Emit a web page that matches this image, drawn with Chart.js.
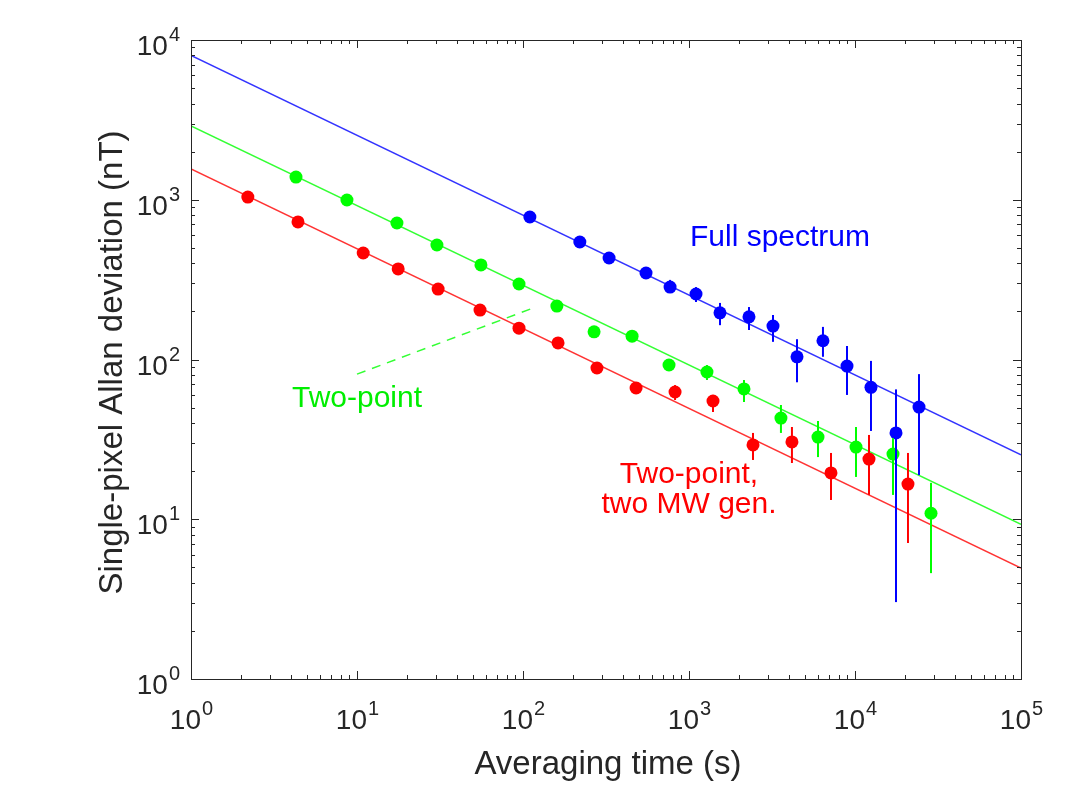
<!DOCTYPE html>
<html>
<head>
<meta charset="utf-8">
<title>Single-pixel Allan deviation</title>
<script src="https://cdn.jsdelivr.net/npm/chart.js@4.4.0/dist/chart.umd.min.js"></script>
<style>
    html, body { margin: 0; padding: 0; background: #ffffff; }
    #wrap { width: 1077px; height: 789px; }
</style>
</head>
<body>
<div id="wrap"><canvas id="allanChart" width="1077" height="789"></canvas></div>
<script>
// Full spectrum (blue)
const blueTime = [110, 220, 330, 551, 769, 1102, 1537, 2298, 3206, 4474, 6412, 8950, 12480, 17660, 24300];
const blueDev  = [780, 544, 432, 348, 284, 257, 196, 185, 162, 104, 131, 91, 67, 34.7, 50.4];
const blueLow  = [760, 530, 421, 339, 261, 229, 164, 153, 129, 72, 104, 60, 35.7, 3.03, 18.9];
const blueHigh = [800, 558, 443, 357, 315, 284, 226, 213, 190, 134, 160, 121.5, 98, 65, 81];

// Two-point (green)
const greenTime = [4.29, 8.7, 17.4, 30.3, 55.8, 94.6, 160, 268, 454, 758, 1283, 2144, 3580, 5985, 10140, 16940, 28700];
const greenDev  = [1387, 996, 715, 521, 391, 297, 216, 149, 140, 92.4, 83.5, 65.4, 43.0, 32.7, 28.3, 25.6, 10.9];
const greenLow  = [1350, 970, 697, 508, 381, 289, 210, 145, 136, 89, 74.4, 54.2, 34.7, 24.5, 18.4, 14.2, 4.6];
const greenHigh = [1425, 1022, 733, 534, 401, 305, 222, 153, 144, 96, 92.4, 74.4, 51.9, 41.2, 37.8, 32.2, 16.9];

// Two-point, two MW generators (red)
const redTime = [2.2, 4.41, 10.9, 17.7, 30.8, 55.1, 94.6, 162.6, 279, 480, 824, 1395, 2430, 4170, 7166, 12140, 20850];
const redDev  = [1040, 726, 464, 369, 276, 204, 157, 127, 88.5, 66.3, 62.6, 55.0, 29.2, 30.5, 19.5, 23.8, 16.6];
const redLow  = [1010, 705, 451, 359, 268, 198, 152, 123, 86, 64, 55.8, 46.9, 23.5, 22.5, 13.2, 14.2, 7.1];
const redHigh = [1070, 747, 477, 379, 284, 210, 162, 131, 91, 68.5, 69.2, 60, 34.7, 37.8, 26, 33.7, 26];

// tau^-1/2 fits, end points
const fitTime  = [1, 100000];
const blueFit  = [8000, 25.3];
const greenFit = [2900, 9.3];
const redFit   = [1560, 4.95];

// dashed pointer from the "Two-point" label
const leaderTime = [10, 115];
const leaderDev  = [81, 210];

// tick labels (powers of ten)
const xTickExps = [0, 1, 2, 3, 4, 5];
const yTickExps = [0, 1, 2, 3, 4];

const FONT = '"Liberation Sans", Arial, Helvetica, sans-serif';
const AXIS_COLOR = '#262626';

function toPoints(xs, ys) {
    return xs.map((x, i) => ({ x: x, y: ys[i] }));
}

function drawErrorBars(chart, xs, lo, hi, color) {
    const ctx = chart.ctx;
    const xs_ = chart.scales.x, ys_ = chart.scales.y;
    ctx.save();
    ctx.strokeStyle = color;
    ctx.lineWidth = 2;
    for (let i = 0; i < xs.length; i++) {
        const px = xs_.getPixelForValue(xs[i]);
        ctx.beginPath();
        ctx.moveTo(px, ys_.getPixelForValue(lo[i]));
        ctx.lineTo(px, ys_.getPixelForValue(hi[i]));
        ctx.stroke();
    }
    ctx.restore();
}

// "10" with a raised exponent; align = 'center' or 'right'
function drawPower(ctx, exp, x, baseY, align) {
    ctx.font = '28px ' + FONT;
    const w1 = ctx.measureText('10').width;
    ctx.font = '20px ' + FONT;
    const w2 = ctx.measureText(String(exp)).width;
    const start = align === 'right' ? x - w1 - w2 : x - (w1 + w2) / 2;
    ctx.textAlign = 'left';
    ctx.textBaseline = 'alphabetic';
    ctx.font = '28px ' + FONT;
    ctx.fillText('10', start, baseY);
    ctx.font = '20px ' + FONT;
    ctx.fillText(String(exp), start + w1 + 1, baseY - 14);
}

const matlabAxes = {
    id: 'matlabAxes',
    afterDatasetsDraw(chart) {
        drawErrorBars(chart, blueTime, blueLow, blueHigh, '#0000ff');
        drawErrorBars(chart, greenTime, greenLow, greenHigh, '#00ff00');
        drawErrorBars(chart, redTime, redLow, redHigh, '#ff0000');
    },
    afterDraw(chart) {
        const ctx = chart.ctx;
        const a = chart.chartArea;
        const sx = chart.scales.x, sy = chart.scales.y;

        ctx.save();
        ctx.strokeStyle = AXIS_COLOR;
        ctx.lineWidth = 1;
        ctx.strokeRect(Math.round(a.left) + 0.5, Math.round(a.top) + 0.5,
            Math.round(a.right - a.left), Math.round(a.bottom - a.top));

        // inner ticks on all four sides
        ctx.beginPath();
        for (let e = 0; e < 5; e++) {
            for (let m = 1; m <= 9; m++) {
                const v = m * Math.pow(10, e);
                const len = m === 1 ? 8 : 4;
                const px = Math.round(sx.getPixelForValue(v)) + 0.5;
                ctx.moveTo(px, a.bottom); ctx.lineTo(px, a.bottom - len);
                ctx.moveTo(px, a.top); ctx.lineTo(px, a.top + len);
            }
        }
        for (let e = 0; e < 4; e++) {
            for (let m = 1; m <= 9; m++) {
                const v = m * Math.pow(10, e);
                const len = m === 1 ? 8 : 4;
                const py = Math.round(sy.getPixelForValue(v)) + 0.5;
                ctx.moveTo(a.left, py); ctx.lineTo(a.left + len, py);
                ctx.moveTo(a.right, py); ctx.lineTo(a.right - len, py);
            }
        }
        ctx.stroke();

        // tick labels
        ctx.fillStyle = AXIS_COLOR;
        xTickExps.forEach(e => {
            drawPower(ctx, e, sx.getPixelForValue(Math.pow(10, e)), a.bottom + 50, 'center');
        });
        yTickExps.forEach(e => {
            drawPower(ctx, e, a.left - 12, sy.getPixelForValue(Math.pow(10, e)) + 15, 'right');
        });

        // axis titles
        ctx.font = '33px ' + FONT;
        ctx.textAlign = 'center';
        ctx.textBaseline = 'middle';
        ctx.fillText('Averaging time (s)', (a.left + a.right) / 2 + 2, 765);
        ctx.save();
        ctx.translate(113, (a.top + a.bottom) / 2 + 3);
        ctx.rotate(-Math.PI / 2);
        ctx.fillText('Single-pixel Allan deviation (nT)', 0, 0);
        ctx.restore();

        // curve labels, anchored in data coordinates
        ctx.font = '30px ' + FONT;
        ctx.textBaseline = 'alphabetic';
        ctx.fillStyle = '#0000ff';
        ctx.fillText('Full spectrum', sx.getPixelForValue(3533), sy.getPixelForValue(513));
        ctx.fillStyle = '#00ee00';
        ctx.fillText('Two-point', sx.getPixelForValue(10), sy.getPixelForValue(50.4));
        ctx.fillStyle = '#ff0000';
        ctx.fillText('Two-point,', sx.getPixelForValue(1000), sy.getPixelForValue(16.9));
        ctx.fillText('two MW gen.', sx.getPixelForValue(1000), sy.getPixelForValue(10.95));
        ctx.restore();
    }
};

document.addEventListener('DOMContentLoaded', function() {
    const ctx = document.getElementById('allanChart').getContext('2d');

    const pointSet = (label, xs, ys, color) => ({
        label: label,
        data: toPoints(xs, ys),
        showLine: false,
        pointRadius: 6.5,
        pointBackgroundColor: color,
        pointBorderColor: color,
        pointBorderWidth: 0,
        order: 1
    });
    const lineSet = (label, xs, ys, color, dash) => ({
        label: label,
        data: toPoints(xs, ys),
        showLine: true,
        pointRadius: 0,
        borderColor: color,
        borderWidth: 1.5,
        borderDash: dash || [],
        order: 5
    });

    new Chart(ctx, {
        type: 'scatter',
        data: {
            datasets: [
                pointSet('Full spectrum', blueTime, blueDev, '#0000ff'),
                pointSet('Two-point', greenTime, greenDev, '#00ff00'),
                pointSet('Two-point, two MW gen.', redTime, redDev, '#ff0000'),
                lineSet('Full spectrum fit', fitTime, blueFit, '#3333ff'),
                lineSet('Two-point fit', fitTime, greenFit, '#33ff33'),
                lineSet('Two MW gen. fit', fitTime, redFit, '#ff3333'),
                lineSet('pointer', leaderTime, leaderDev, '#33ff33', [9, 7])
            ]
        },
        options: {
            responsive: false,
            animation: false,
            events: [],
            layout: { padding: { left: 191, right: 56, top: 40, bottom: 110 } },
            plugins: { legend: { display: false }, tooltip: { enabled: false } },
            scales: {
                x: { type: 'logarithmic', min: 1, max: 100000, display: false },
                y: { type: 'logarithmic', min: 1, max: 10000, display: false }
            }
        },
        plugins: [matlabAxes]
    });
});
</script>
</body>
</html>
